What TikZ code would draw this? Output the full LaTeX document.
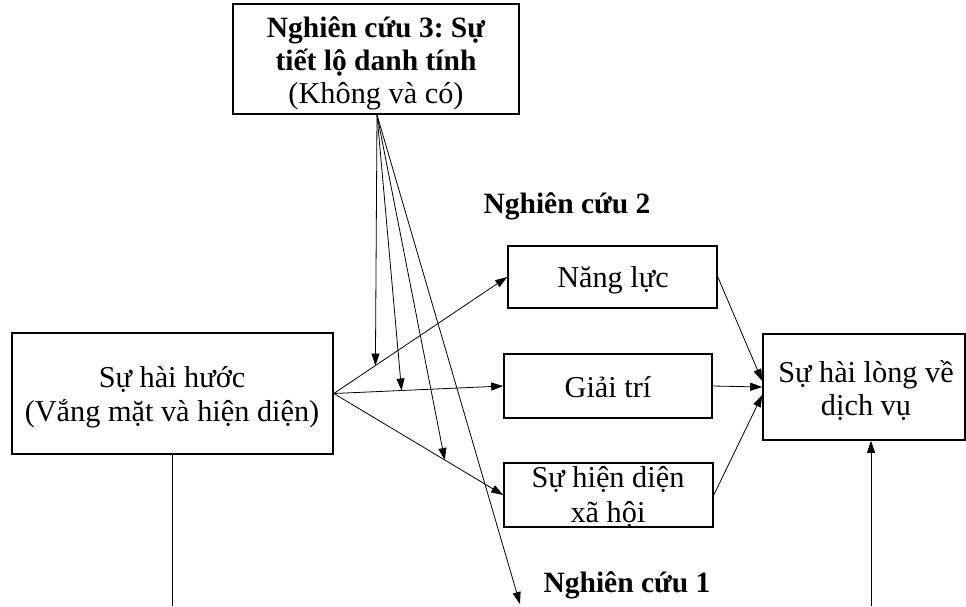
\documentclass[tikz,border=0pt]{standalone}
\usepackage{fontspec}
\setmainfont{Liberation Serif}
\usetikzlibrary{arrows.meta,calc}
\frenchspacing
\begin{document}
\begin{tikzpicture}[x=1pt,y=-1pt,
  box/.style={draw, line width=1.6pt, inner sep=0pt},
  txt/.style={font=\fontsize{30.3}{34}\selectfont, inner sep=0pt, anchor=base},
  boldtxt/.style={font=\fontsize{29.5}{34}\selectfont\bfseries, inner sep=0pt, anchor=base},
  link/.style={line width=0.8pt, -{Triangle[length=12pt,width=8pt]}},
  plainline/.style={line width=0.8pt}
]
\useasboundingbox (0,0) rectangle (966,606);

% frames
\node[box, minimum width=286pt, minimum height=110pt] (id)   at (376,59) {};
\node[box, minimum width=321pt, minimum height=121pt] (hum)  at (172.5,393.5) {};
\node[box, minimum width=209pt, minimum height=62pt]  (nang) at (612.5,277) {};
\node[box, minimum width=208pt, minimum height=64pt]  (giai) at (608,386) {};
\node[box, minimum width=209pt, minimum height=64pt]  (hien) at (608.5,495) {};
\node[box, minimum width=202pt, minimum height=106pt] (sat)  at (864,387) {};

% text set on baselines
\node[boldtxt] (id1) at (376,37)  {Nghiên cứu 3: Sự};
\node[boldtxt] (id2) at (376,70)  {tiết lộ danh tính};
\node[txt]     (id3) at (376,103) {(Không và có)};
\node[txt] (hum1)  at (172,387) {Sự hài hước};
\node[txt] (hum2)  at (172,421) {(Vắng mặt và hiện diện)};
\node[txt] (nang1) at (613,287) {Năng lực};
\node[txt] (giai1) at (608,397) {Giải trí};
\node[txt] (hien1) at (608,487) {Sự hiện diện};
\node[txt] (hien2) at (608,522) {xã hội};
\node[txt] (sat1)  at (866,382) {Sự hài lòng về};
\node[txt] (sat2)  at (866,415) {dịch vụ};

% study labels
\node[boldtxt] (s2) at (567,213) {Nghiên cứu 2};
\node[boldtxt] (s1) at (627,592) {Nghiên cứu 1};

% humour to mediators
\draw[link] (hum.east) -- (nang.west);
\draw[link] (hum.east) -- (giai.west);
\draw[link] (hum.east) -- (hien.west);

% mediators to satisfaction
\draw[link] (nang.east) -- ($(sat.west)+(0,-6)$);
\draw[link] (giai.east) -- (sat.west);
\draw[link] (hien.east) -- ($(sat.west)+(0,8)$);

% moderation by identity disclosure
\coordinate (src) at ($(id.south)+(1,0)$);
\coordinate (m1) at ($(hum.east)!0.24!(nang.west)$);
\coordinate (m2) at ($(hum.east)!0.40!(giai.west)$);
\coordinate (m3) at ($(hum.east)!0.655!(hien.west)$);
\coordinate (m4) at (520,604);
\draw[link] (src) -- (m1);
\draw[link] (src) -- (m2);
\draw[link] (src) -- (m3);
\draw[link] (src) -- (m4);

% study 1 direct path
\coordinate (humfoot) at (172.5,606);
\coordinate (satfoot) at (871,606);
\draw[plainline] (hum.south) -- (humfoot);
\draw[link] (satfoot) -- (satfoot |- sat.south);
\end{tikzpicture}
\end{document}
